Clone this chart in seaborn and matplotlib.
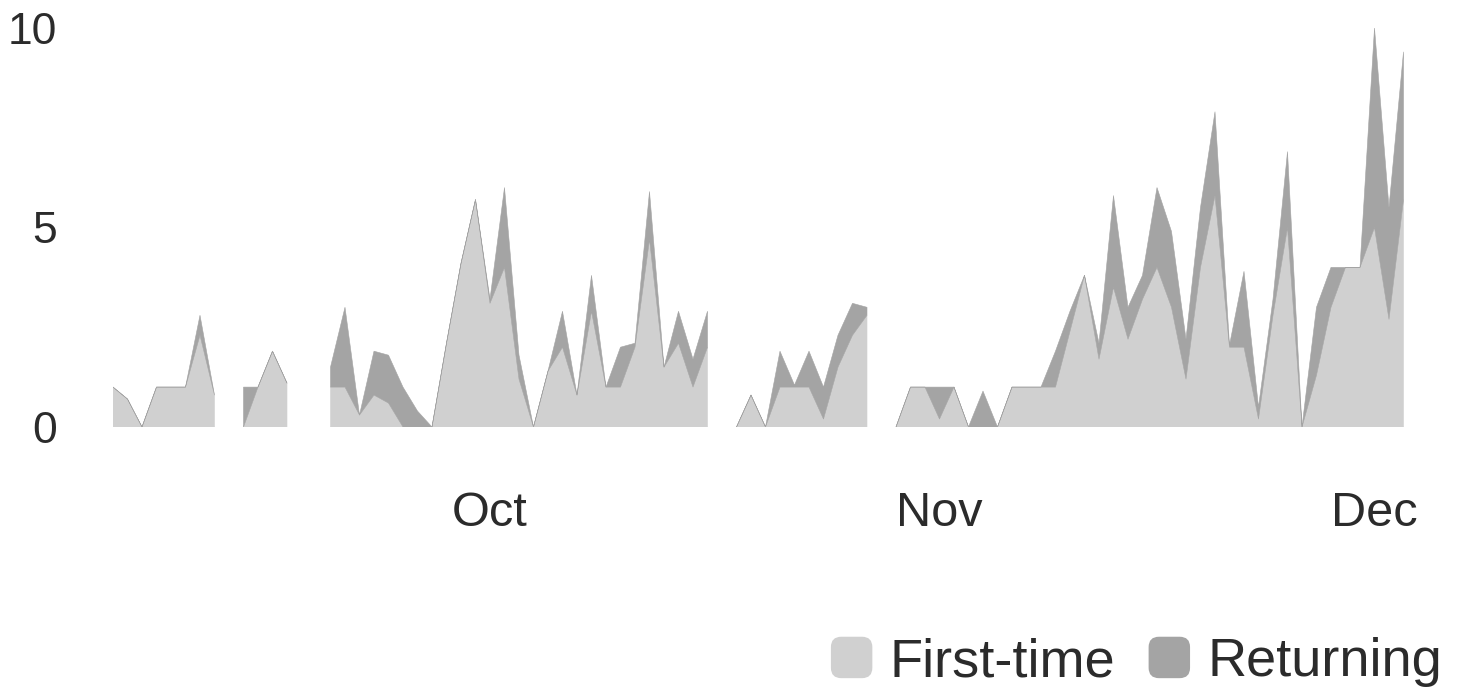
import numpy as np
import pandas as pd
import matplotlib
matplotlib.use("Agg")
import matplotlib.pyplot as plt
import matplotlib.dates as mdates
from matplotlib.patches import Patch, FancyBboxPatch
from matplotlib.legend_handler import HandlerPatch
import seaborn as sns

# --- data: daily visitors, NaN = no data that day ---------------------------
nan = np.nan
start_day = "2023-09-05"
first_time = [1, 0.7, 0, 1, 1, 1, 2.3, 0.8, nan, 0,
              1, 1.9, 1.1, nan, nan, 1, 1, 0.3, 0.8, 0.6,
              0, 0, 0, 2.1, 4.1, 5.7, 3.1, 4, 1.2, 0,
              1.4, 2, 0.8, 2.9, 1, 1, 2, 4.7, 1.5, 2.1,
              1, 2, nan, 0, 0.8, 0, 1, 1, 1, 0.2,
              1.5, 2.3, 2.8, nan, 0, 1, 1, 0.2, 1, 0,
              0, 0, 1, 1, 1, 1, 2.4, 3.8, 1.7, 3.5,
              2.2, 3.2, 4, 3, 1.2, 4, 5.8, 2, 2, 0.2,
              2.8, 5, 0, 1.3, 3, 4, 4, 5, 2.7, 5.7]
returning = [0, 0, 0, 0, 0, 0, 0.5, 0, nan, 1,
             0, 0, 0, nan, nan, 0.5, 2, 0, 1.1, 1.2,
             1, 0.4, 0, 0, 0, 0, 0.1, 2, 0.6, 0,
             0, 0.9, 0, 0.9, 0, 1, 0.1, 1.2, 0, 0.8,
             0.7, 0.9, nan, 0, 0, 0, 0.9, 0.05, 0.9, 0.8,
             0.8, 0.8, 0.2, nan, 0, 0, 0, 0.8, 0, 0,
             0.9, 0, 0, 0, 0, 0.9, 0.5, 0, 0.4, 2.3,
             0.8, 0.6, 2, 1.9, 1, 1.5, 2.1, 0.05, 1.9, 0.3,
             0.4, 1.9, 0, 1.7, 1, 0, 0, 5, 2.8, 3.7]
series_names = ["First-time", "Returning"]
y_ticks = [0, 5, 10]
month_ticks = ["2023-10-01", "2023-11-01", "2023-12-01"]

LIGHT, DARK = "#d0d0d0", "#a4a4a4"
TXT = "#2b2b2b"

sns.set_theme(style="white")
plt.rcParams["font.family"] = ["Liberation Sans", "DejaVu Sans"]

df = pd.DataFrame({
    "day": pd.date_range(start_day, periods=len(first_time), freq="D"),
    "first": first_time,
    "ret": returning,
})
df["total"] = df["first"] + df["ret"]

fig = plt.figure(figsize=(14.58, 6.91), dpi=100)
ax = fig.add_axes([113 / 1458, 1 - 427 / 691, (1403.5 - 113) / 1458, (427 - 28) / 691])

ax.fill_between(df["day"], 0, df["first"], color=LIGHT, lw=0.4, ec=LIGHT)
ax.fill_between(df["day"], df["first"], df["total"], color=DARK, lw=0.4, ec=DARK)

ax.set_xlim(df["day"].iloc[0], df["day"].iloc[-1])
ax.set_ylim(0, 10)
ax.set_yticks(y_ticks)
ax.set_xticks(pd.to_datetime(month_ticks))
ax.xaxis.set_major_formatter(mdates.DateFormatter("%b"))
ax.tick_params(axis="both", length=0, colors=TXT)
ax.tick_params(axis="y", pad=40, labelsize=32)
ax.tick_params(axis="x", pad=46, labelsize=35)
ax.grid(False)
sns.despine(ax=ax, left=True, bottom=True)


class RoundSquare(HandlerPatch):
    def create_artists(self, legend, orig_handle, xdescent, ydescent,
                       width, height, fontsize, trans):
        s = min(width, height)
        p = FancyBboxPatch((-xdescent + (width - s) / 2, -ydescent + (height - s) / 2), s, s,
                           boxstyle=f"round,pad=0,rounding_size={s * 0.25}",
                           fc=orig_handle.get_facecolor(), ec="none", transform=trans)
        return [p]


handles = [Patch(color=LIGHT, label=series_names[0]), Patch(color=DARK, label=series_names[1])]
fig.legend(handles=handles, loc="center right", bbox_to_anchor=(1442 / 1458, 1 - 662 / 691),
           ncol=2, frameon=False, fontsize=39, handlelength=0.8, handleheight=0.8,
           handletextpad=0.3, columnspacing=0.6, borderpad=0, borderaxespad=0,
           labelcolor=TXT, handler_map={Patch: RoundSquare()})

fig.savefig("out.png", dpi=100)
